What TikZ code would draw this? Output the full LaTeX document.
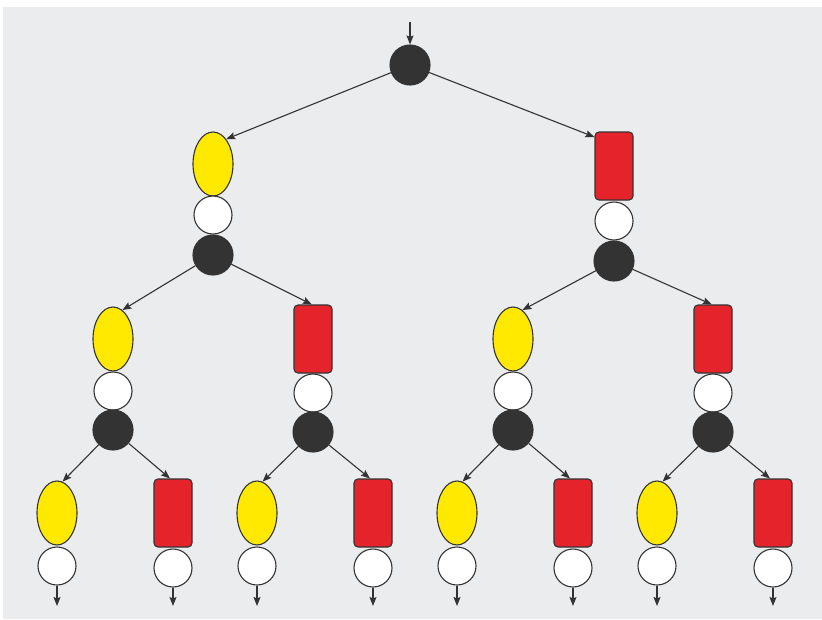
\documentclass[tikz,border=0pt]{standalone}
\usetikzlibrary{shapes.geometric,arrows.meta}
\definecolor{bg}{HTML}{EBECEE}
\definecolor{ink}{HTML}{333333}
\definecolor{yel}{HTML}{FFE900}
\definecolor{rd}{HTML}{E5232B}
\tikzset{
  yshape/.style={ellipse,draw=ink,line width=1.1pt,fill=yel,minimum width=40pt,minimum height=64pt,inner sep=0pt},
  rshape/.style={rectangle,rounded corners=4pt,draw=ink,line width=1.1pt,fill=rd,minimum width=38pt,minimum height=68pt,inner sep=0pt},
  wdot/.style={circle,draw=ink,line width=1.1pt,fill=white,minimum size=38pt,inner sep=0pt},
  bdot/.style={circle,draw=ink,line width=1.1pt,fill=ink,minimum size=40pt,inner sep=0pt},
  conn/.style={draw=ink,line width=1.1pt,-{Stealth[length=9pt,width=7pt,inset=1.5pt]}},
}
\begin{document}
\begin{tikzpicture}[x=1pt,y=-1pt]
\useasboundingbox (0,0) rectangle (822,619);
\fill[bg] (3,7) rectangle (822,619);
% root
\coordinate (in) at (410,22);
\node[bdot] (root) at (410,65) {};
% level 1
\node[yshape] (Y1) at (213,164) {};
\node[wdot] (Y1w) at (213,215) {};
\node[bdot] (Y1b) at (213,255) {};
\node[rshape] (R1) at (614,166) {};
\node[wdot] (R1w) at (614,221) {};
\node[bdot] (R1b) at (614,261) {};
% level 2
\foreach \n/\x in {A/113,B/513}{
  \node[yshape] (Y2\n) at (\x,339) {};
  \node[wdot] (Y2\n w) at (\x,391) {};
  \node[bdot] (Y2\n b) at (\x,430) {};
}
\foreach \n/\x in {A/313,B/713}{
  \node[rshape] (R2\n) at (\x,339) {};
  \node[wdot] (R2\n w) at (\x,393) {};
  \node[bdot] (R2\n b) at (\x,432) {};
}
% level 3
\foreach \n/\x in {A/57,B/257,C/457,D/657}{
  \node[yshape] (Y3\n) at (\x,513) {};
  \node[wdot] (Y3\n w) at (\x,566) {};
  \coordinate (Y3\n o) at (\x,606);
  \draw[conn] (Y3\n w) -- (Y3\n o);
}
\foreach \n/\x in {A/173,B/373,C/573,D/773}{
  \node[rshape] (R3\n) at (\x,513) {};
  \node[wdot] (R3\n w) at (\x,568) {};
  \coordinate (R3\n o) at (\x,606);
  \draw[conn] (R3\n w) -- (R3\n o);
}
% connectors
\draw[conn] (in) -- (root);
\draw[conn] (root) -- (Y1.62);
\draw[conn] (root) -- (R1.124);
\draw[conn] (Y1b) -- (Y2A.72);
\draw[conn] (Y1b) -- (R2A.92);
\draw[conn] (R1b) -- (Y2B.72);
\draw[conn] (R1b) -- (R2B.92);
\draw[conn] (Y2Ab) -- (Y3A.80);
\draw[conn] (Y2Ab) -- (R3A.95);
\draw[conn] (R2Ab) -- (Y3B.80);
\draw[conn] (R2Ab) -- (R3B.95);
\draw[conn] (Y2Bb) -- (Y3C.80);
\draw[conn] (Y2Bb) -- (R3C.95);
\draw[conn] (R2Bb) -- (Y3D.80);
\draw[conn] (R2Bb) -- (R3D.95);
\end{tikzpicture}
\end{document}
